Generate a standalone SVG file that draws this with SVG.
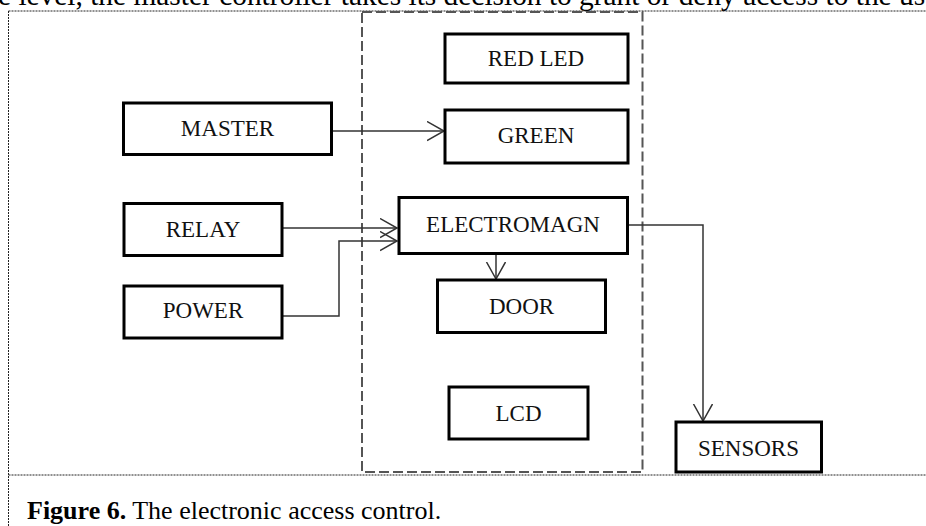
<svg xmlns="http://www.w3.org/2000/svg" width="926" height="526" viewBox="0 0 926 526">
<style>
.box{fill:#fff;stroke:#000;stroke-width:3}
.lbl{font-family:"Liberation Serif","Times New Roman",serif;font-size:23px;fill:#111;text-anchor:middle}
.con{fill:none;stroke:#333;stroke-width:1.5}
.frame{fill:none;stroke:#222;stroke-width:1;stroke-dasharray:2 1}
.group{fill:none;stroke:#555;stroke-width:2;stroke-dasharray:10 4}
.body{font-family:"Liberation Serif","Times New Roman",serif;font-size:29.4px;fill:#000}
</style>
<defs>
<marker id="arr" markerUnits="userSpaceOnUse" markerWidth="20" markerHeight="22" refX="17" refY="10" orient="auto" viewBox="0 0 20 22">
<path d="M0,0.5 L17,10 L0,19.5" fill="none" stroke="#333" stroke-width="1.5"/>
</marker>
</defs>
<rect width="926" height="526" fill="#fff"/>
<text class="body" x="-2" y="5">e level, the master controller takes its decision to grant or deny access to the us</text>
<g id="frame">
<path class="frame" d="M8.5,11 H926 M8.5,11 V526 M8.5,475 H926"/>
</g>
<g id="controller-group">
<rect class="group" x="362" y="12" width="280.5" height="460"/>
</g>
<g id="connectors">
<path class="con" d="M332,131 H444" marker-end="url(#arr)"/>
<path class="con" d="M282,228 H397" marker-end="url(#arr)"/>
<path class="con" d="M282,316 H339 V241 H397" marker-end="url(#arr)"/>
<path class="con" d="M496,253 V279" marker-end="url(#arr)"/>
<path class="con" d="M628,225 H703 V421" marker-end="url(#arr)"/>
</g>
<g id="red-led"><rect class="box" x="445" y="34" width="183" height="49"/><text class="lbl" x="536" y="66">RED LED</text></g>
<g id="green"><rect class="box" x="445" y="110" width="183" height="53"/><text class="lbl" x="536" y="143">GREEN</text></g>
<g id="master"><rect class="box" x="123.5" y="103" width="208" height="51.5"/><text class="lbl" x="227.5" y="136">MASTER</text></g>
<g id="relay"><rect class="box" x="124" y="203.5" width="158" height="52"/><text class="lbl" x="203" y="236.5">RELAY</text></g>
<g id="power"><rect class="box" x="124" y="286" width="158" height="52"/><text class="lbl" x="203" y="318">POWER</text></g>
<g id="electromagn"><rect class="box" x="399" y="197.5" width="228.5" height="56"/><text class="lbl" x="513" y="231.5">ELECTROMAGN</text></g>
<g id="door"><rect class="box" x="437.5" y="280" width="168" height="52.5"/><text class="lbl" x="521.5" y="314">DOOR</text></g>
<g id="lcd"><rect class="box" x="449" y="387" width="139" height="52"/><text class="lbl" x="518.5" y="421">LCD</text></g>
<g id="sensors"><rect class="box" x="676" y="422" width="145.5" height="50"/><text class="lbl" x="748.5" y="455.5">SENSORS</text></g>
<text x="27" y="519" font-family="Liberation Serif,'Times New Roman',serif" font-size="26" fill="#000"><tspan font-weight="bold">Figure 6.</tspan> The electronic access control.</text>
</svg>
